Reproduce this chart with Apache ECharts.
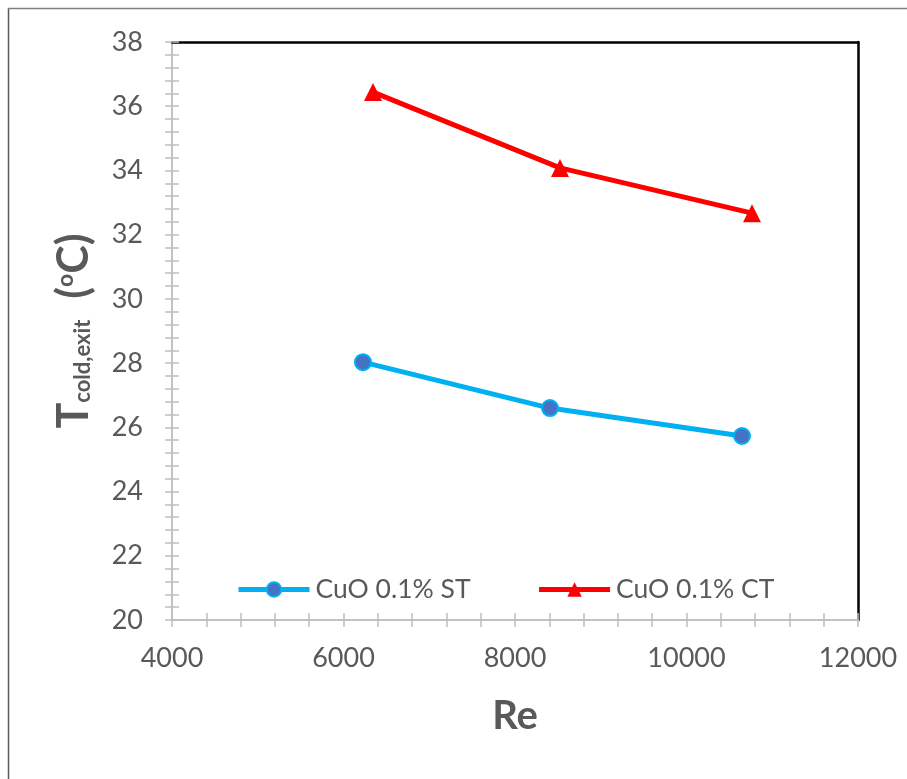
<!DOCTYPE html>
<html>
<head>
<meta charset="utf-8">
<script src="https://cdn.jsdelivr.net/npm/echarts@6/dist/echarts.min.js"></script>
<style>html,body{margin:0;padding:0;background:#fff;}#c{width:907px;height:779px;}</style>
</head>
<body>
<div id="c"></div>
<script>
var seriesNames = ['CuO 0.1% ST', 'CuO 0.1% CT'];
var reST = [6227, 8408, 10647];
var tST = [28.03, 26.60, 25.73];
var reCT = [6344, 8525, 10764];
var tCT = [36.44, 34.08, 32.67];
var xTicks = [4000, 6000, 8000, 10000, 12000];
var yTicks = [20, 22, 24, 26, 28, 30, 32, 34, 36, 38];

function pairs(xs, ys) { return xs.map(function (x, i) { return [x, ys[i]]; }); }

var gray = '#bfbfbf';
var txt = '#595959';
var font = 'Lato, "Open Sans", sans-serif';

var chart = echarts.init(document.getElementById('c'));
var baseX = {
  type: 'value', min: xTicks[0], max: xTicks[xTicks.length - 1], interval: 2000,
  position: 'bottom', splitLine: { show: false },
  axisLine: { show: true, onZero: false, lineStyle: { color: gray, width: 1.5 } },
  minorTick: { show: true, splitNumber: 5, length: 7, lineStyle: { color: gray, width: 1.5 } },
  axisTick: { show: true, length: 7, lineStyle: { color: gray, width: 1.5 } }
};
var baseY = {
  type: 'value', min: yTicks[0], max: yTicks[yTicks.length - 1], interval: 2,
  position: 'left', splitLine: { show: false },
  axisLine: { show: true, onZero: false, lineStyle: { color: gray, width: 1.5 } },
  minorTick: { show: true, splitNumber: 5, length: 7, lineStyle: { color: gray, width: 1.5 } },
  axisTick: { show: true, length: 7, lineStyle: { color: gray, width: 1.5 } }
};
var option = {
  backgroundColor: '#fff',
  animation: false,
  grid: { left: 172, right: 49, top: 42, bottom: 159, containLabel: false },
  graphic: [
    { type: 'line', shape: { x1: 8.5, y1: 8, x2: 8.5, y2: 779 }, style: { stroke: '#595959', lineWidth: 1.5 } },
    { type: 'line', shape: { x1: 8, y1: 8.5, x2: 907, y2: 8.5 }, style: { stroke: '#808080', lineWidth: 1.5 } }
  ],
  legend: {
    left: 236, top: 576, padding: 0, itemWidth: 71, itemHeight: 18, itemGap: 66,
    lineStyle: { width: 5 },
    textStyle: { color: txt, fontSize: 26.5, fontFamily: font, padding: [0, 0, 0, 1] },
    data: seriesNames
  },
  xAxis: [
    Object.assign({}, baseX, {
      axisLabel: { color: txt, fontSize: 27, fontFamily: font, margin: 25, formatter: function (v) { return String(v); } },
      name: 'Re', nameLocation: 'middle', nameGap: 76,
      nameTextStyle: { color: txt, fontSize: 40, fontWeight: 'bold', fontFamily: font }
    }),
    Object.assign({}, baseX, {
      axisTick: { show: true, inside: true, length: 7, lineStyle: { color: gray, width: 1.5 } },
      minorTick: { show: true, splitNumber: 5, length: 7, lineStyle: { color: gray, width: 1.5 } },
      axisLabel: { show: false }
    }),
    { type: 'value', min: xTicks[0], max: xTicks[xTicks.length - 1], position: 'top',
      axisLine: { show: true, onZero: false, lineStyle: { color: '#000', width: 2.5 } },
      axisTick: { show: false }, axisLabel: { show: false }, splitLine: { show: false } }
  ],
  yAxis: [
    Object.assign({}, baseY, {
      axisLabel: { color: txt, fontSize: 27, fontFamily: font, margin: 29 },
      name: '{b|T}{s|cold,exit}{b|  (}{sup|o}{b|C)}',
      nameLocation: 'middle', nameGap: 74, nameRotate: 90,
      nameTextStyle: {
        color: txt, fontFamily: font,
        rich: {
          b: { fontSize: 43, fontWeight: 'bold', color: txt, fontFamily: font, lineHeight: 48, verticalAlign: 'middle' },
          s: { fontSize: 22, fontWeight: 'bold', color: txt, fontFamily: font, lineHeight: 22, verticalAlign: 'bottom', padding: [0, 0, 4, 0] },
          sup: { fontSize: 23, fontWeight: 'bold', color: txt, fontFamily: font, lineHeight: 23, verticalAlign: 'top', padding: [4, 0, 0, 0] }
        }
      }
    }),
    Object.assign({}, baseY, {
      axisTick: { show: true, inside: true, length: 7, lineStyle: { color: gray, width: 1.5 } },
      minorTick: { show: true, splitNumber: 5, length: 7, lineStyle: { color: gray, width: 1.5 } },
      axisLabel: { show: false }
    }),
    { type: 'value', min: yTicks[0], max: yTicks[yTicks.length - 1], position: 'right',
      axisLine: { show: true, onZero: false, lineStyle: { color: '#000', width: 2.5 } },
      axisTick: { show: false }, axisLabel: { show: false }, splitLine: { show: false } }
  ],
  series: [
    {
      name: seriesNames[0], type: 'line', xAxisIndex: 0, yAxisIndex: 0,
      data: pairs(reST, tST),
      symbol: 'circle', symbolSize: 16,
      lineStyle: { color: '#00b0f0', width: 5 },
      itemStyle: { color: '#4472c4', borderColor: '#00b0f0', borderWidth: 2 }
    },
    {
      name: seriesNames[1], type: 'line', xAxisIndex: 0, yAxisIndex: 0,
      data: pairs(reCT, tCT),
      symbol: 'triangle', symbolSize: 18,
      lineStyle: { color: '#ff0000', width: 5 },
      itemStyle: { color: '#ff0000', borderWidth: 0 }
    }
  ]
};
chart.setOption(option);
</script>
</body>
</html>
